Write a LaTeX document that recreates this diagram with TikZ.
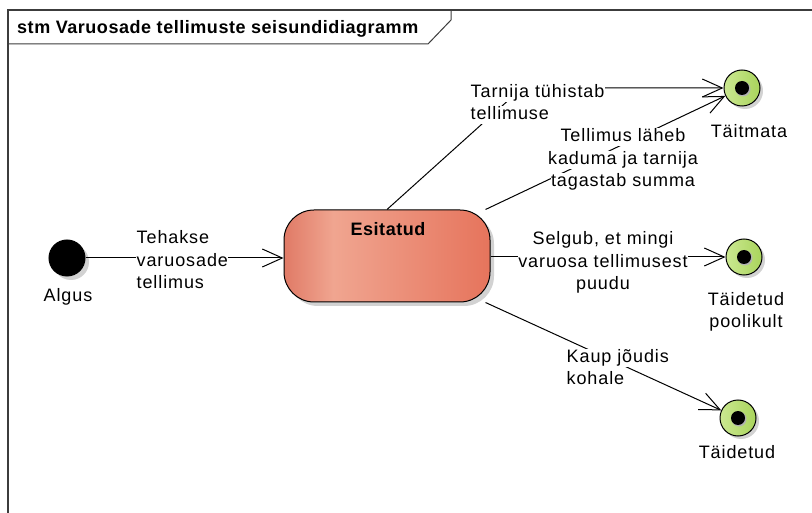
\documentclass[tikz,border=0pt]{standalone}
\usepackage{fontspec}
\setmainfont{Liberation Sans}[LetterSpace=5, BoldFeatures={LetterSpace=3}]
\usetikzlibrary{arrows.meta,calc}

% state fill: salmon with a lighter band left of centre
\definecolor{stA}{HTML}{E07A66}
\definecolor{stB}{HTML}{F0A590}
\definecolor{stC}{HTML}{E6745C}
\pgfdeclarehorizontalshading{stateshade}{100bp}{color(0bp)=(stA); color(25bp)=(stA); color(37bp)=(stB); color(75bp)=(stC); color(100bp)=(stC)}
\definecolor{finalA}{HTML}{CBE891}
\definecolor{finalB}{HTML}{A9D45C}
\definecolor{framecol}{HTML}{3C3C3C}

\begin{document}
\begin{tikzpicture}[x=1pt,y=-1pt,
  txt/.style={font=\fontsize{18}{22.5}\selectfont, inner sep=1pt},
  lbl/.style={font=\fontsize{18}{22.5}\selectfont, inner sep=0.5pt, text height=13pt, text depth=4pt, fill=white},
  trans/.style={line width=1pt, -{Straight Barb[length=20pt,width=18pt,line width=1pt]}},
  statebox/.style={rectangle, rounded corners=30pt, minimum width=206pt, minimum height=92pt, draw=black, line width=1pt, shading=stateshade},
  finalnode/.style={circle, minimum size=36pt, inner sep=0pt, draw=black, line width=1pt, left color=finalA, right color=finalB},
  initnode/.style={circle, minimum size=36pt, inner sep=0pt, draw=black, line width=1pt, fill=black},
]
\useasboundingbox (0,0) rectangle (812,513);
\fill[white] (0,0) rectangle (812,513);

% diagram frame with its name tab
\draw[framecol, line width=1.2pt] (8,513) -- (8,10) -- (812,10);
\draw[framecol, line width=1pt] (8,44) -- (428,44) -- (451,20) -- (451,10);
\node[anchor=west, font=\fontsize{18}{22}\selectfont\bfseries, inner sep=0pt] (title) at (17,29) {stm Varuosade tellimuste seisundidiagramm};

% drop shadows
\fill[gray!35] (71,262) circle (18);
\fill[gray!35, rounded corners=30pt] (288,214) rectangle (494,306);
\fill[gray!35] (745,91) circle (18);
\fill[gray!35] (747,260) circle (18);
\fill[gray!35] (741,421) circle (18);

% states
\node[initnode] (algus) at (67,258) {};
\node[statebox] (esitatud) at (387,256) {};
\node[font=\fontsize{18}{22}\selectfont\bfseries, inner sep=0pt] (esitatudtitle) at (388,229) {Esitatud};
\node[finalnode] (f1) at (742,88) {};
\node[finalnode] (f2) at (744,257) {};
\node[finalnode] (f3) at (738,418) {};
\foreach \f in {f1,f2,f3}{
  \fill[gray!60] ($(\f)+(1,1)$) circle (7.5);
  \fill[black] (\f) circle (7);
}

% state names
\node[txt] (alguslbl) at (68,297) {Algus};
\node[txt] (f1lbl) at (749,131) {Täitmata};
\node[txt, align=center] (f2lbl) at (746,312) {Täidetud\\poolikult};
\node[txt] (f3lbl) at (737,452) {Täidetud};

% transitions
\coordinate (bend1) at (522,88);
\draw[trans] (algus) -- (esitatud.west |- algus);
\draw[trans] (esitatud.north) -- (bend1) -- (f1.west);
\draw[trans] ($(esitatud.north east)+(-5,0)$) -- (f1);
\draw[trans] (esitatud.east |- f2) -- (f2.west);
\draw[trans] ($(esitatud.south east)+(-5,0)$) -- (f3);

% transition labels, one white-backed line each
\node[lbl, anchor=west] (tA1) at (136,239.5) {Tehakse};
\node[lbl, anchor=west] (tA2) at (136,262) {varuosade};
\node[lbl, anchor=west] (tA3) at (136,284.5) {tellimus};

\node[lbl, anchor=west] (tB1) at (470,92.75) {Tarnija tühistab};
\node[lbl, anchor=west] (tB2) at (470,115.25) {tellimuse};

\node[lbl] (tC1) at (623,137.5) {Tellimus läheb};
\node[lbl] (tC2) at (623,160) {kaduma ja tarnija};
\node[lbl] (tC3) at (623,182.5) {tagastab summa};

\node[lbl] (tD1) at (603,240.5) {Selgub, et mingi};
\node[lbl] (tD2) at (603,263) {varuosa tellimusest};
\node[lbl] (tD3) at (603,285.5) {puudu};

\node[lbl, anchor=west] (tE1) at (566,357.75) {Kaup jõudis};
\node[lbl, anchor=west] (tE2) at (566,380.25) {kohale};
\end{tikzpicture}
\end{document}
